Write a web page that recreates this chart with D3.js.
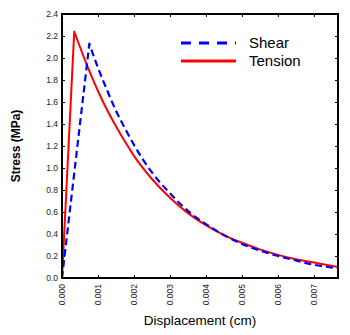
<!DOCTYPE html>
<html>
<head>
<meta charset="utf-8">
<script src="https://cdn.jsdelivr.net/npm/d3@7/dist/d3.min.js"></script>
<style>
  body { margin: 0; background: #fff; }
  svg { display: block; font-family: Arial, "Liberation Sans", sans-serif; }
</style>
</head>
<body>
<div id="chart"></div>
<script>
// Desplazamiento (cm) y esfuerzo (MPa) de cada ensayo
const shearX = [0, 0.00076, 0.001, 0.00125, 0.0015, 0.00175, 0.002, 0.0025, 0.003, 0.0035, 0.004, 0.0045, 0.005, 0.0055, 0.006, 0.0065, 0.007, 0.00767];
const shearY = [0, 2.13, 1.91, 1.71, 1.52, 1.36, 1.21, 0.96, 0.77, 0.61, 0.49, 0.39, 0.31, 0.25, 0.20, 0.16, 0.12, 0.09];
const tensionX = [0, 0.00034, 0.0005, 0.00075, 0.001, 0.00125, 0.0015, 0.00175, 0.002, 0.0025, 0.003, 0.0035, 0.004, 0.0045, 0.005, 0.0055, 0.006, 0.0065, 0.007, 0.00767];
const tensionY = [0, 2.24, 2.10, 1.89, 1.70, 1.53, 1.38, 1.24, 1.11, 0.90, 0.73, 0.59, 0.48, 0.39, 0.32, 0.26, 0.21, 0.17, 0.14, 0.10];

const xTicks = [0, 0.001, 0.002, 0.003, 0.004, 0.005, 0.006, 0.007];
const yTicks = [0, 0.2, 0.4, 0.6, 0.8, 1.0, 1.2, 1.4, 1.6, 1.8, 2.0, 2.2, 2.4];
const seriesNames = ["Shear", "Tension"];

const width = 350, height = 335;
const margin = { top: 14, right: 12, bottom: 57, left: 62 };

const svg = d3.select("#chart").append("svg")
    .attr("width", width)
    .attr("height", height);

const x = d3.scaleLinear().domain([0, 0.00767]).range([margin.left, width - margin.right]);
const y = d3.scaleLinear().domain([0, 2.4]).range([height - margin.bottom, margin.top]);

// Marcas internas en los cuatro lados
function ticks(axis, transform) {
    const g = svg.append("g").attr("transform", transform).call(axis);
    g.select(".domain").remove();
    g.selectAll(".tick line").attr("stroke", "#000").attr("stroke-width", 1);
    return g;
}

const gx = ticks(d3.axisBottom(x).tickValues(xTicks).tickSize(-3).tickFormat(d3.format(".3f")),
    `translate(0,${height - margin.bottom})`);
gx.selectAll(".tick text")
    .attr("transform", "rotate(-90)")
    .attr("x", -6).attr("y", 0).attr("dy", "0.35em")
    .style("text-anchor", "end")
    .style("font-size", "8.5px")
    .attr("fill", "#222");

ticks(d3.axisTop(x).tickValues(xTicks).tickSize(-3).tickFormat(""), `translate(0,${margin.top})`);

const gy = ticks(d3.axisLeft(y).tickValues(yTicks).tickSize(-3).tickFormat(d3.format(".1f")),
    `translate(${margin.left},0)`);
gy.selectAll(".tick text")
    .attr("x", -4)
    .style("font-size", "8.5px")
    .attr("fill", "#222");

ticks(d3.axisRight(y).tickValues(yTicks).tickSize(-3).tickFormat(""), `translate(${width - margin.right},0)`);

// Curvas: tramo recto hasta el pico y caída suavizada después
const straight = d3.line().x(d => x(d[0])).y(d => y(d[1]));
const smooth = d3.line().x(d => x(d[0])).y(d => y(d[1])).curve(d3.curveMonotoneX);

function drawCurve(xs, ys, color, widthPx, dash) {
    const pts = xs.map((v, i) => [v, ys[i]]);
    const peak = d3.maxIndex(ys);
    const d = straight(pts.slice(0, peak + 1)) + smooth(pts.slice(peak)).replace(/^M/, "L");
    svg.append("path")
        .attr("fill", "none")
        .attr("stroke", color)
        .attr("stroke-width", widthPx)
        .attr("stroke-dasharray", dash)
        .attr("stroke-linejoin", "round")
        .attr("d", d);
}

drawCurve(tensionX, tensionY, "#ff0000", 2, null);
drawCurve(shearX, shearY, "#0000ff", 2.2, "7,4");

// Marco
svg.append("rect")
    .attr("x", margin.left)
    .attr("y", margin.top)
    .attr("width", width - margin.left - margin.right)
    .attr("height", height - margin.top - margin.bottom)
    .attr("fill", "none")
    .attr("stroke", "#000")
    .attr("stroke-width", 2);

// Leyenda
const legend = svg.append("g").attr("transform", "translate(181,43)");
const colors = ["#0000ff", "#ff0000"];
const dashes = ["10,8", null];
seriesNames.forEach((name, i) => {
    legend.append("line")
        .attr("x1", 0).attr("x2", 55)
        .attr("y1", i * 18).attr("y2", i * 18)
        .attr("stroke", colors[i])
        .attr("stroke-width", 3)
        .attr("stroke-dasharray", dashes[i]);
    legend.append("text")
        .attr("x", 68).attr("y", i * 18)
        .attr("dy", "0.35em")
        .style("font-size", "15px")
        .text(name);
});

// Títulos de ejes
svg.append("text")
    .attr("x", (margin.left + width - margin.right) / 2)
    .attr("y", 325)
    .style("text-anchor", "middle")
    .style("font-size", "13.5px")
    .text("Displacement (cm)");

svg.append("text")
    .attr("transform", `translate(20,${(margin.top + height - margin.bottom) / 2}) rotate(-90)`)
    .style("text-anchor", "middle")
    .style("font-size", "12px")
    .style("font-weight", "bold")
    .text("Stress (MPa)");
</script>
</body>
</html>
